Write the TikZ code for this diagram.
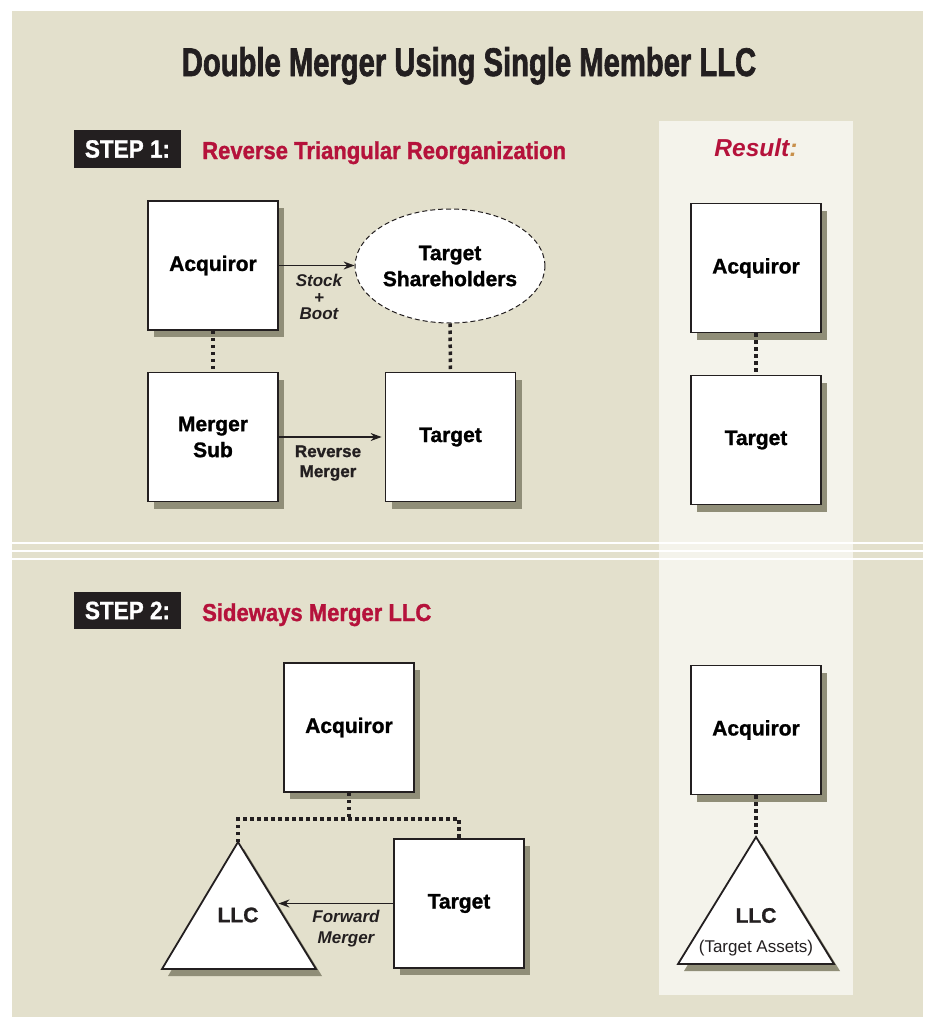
\documentclass[tikz,border=0pt]{standalone}
\usepackage{fontspec}
\setmainfont{Liberation Sans}[BoldFeatures={FakeBold=1.2}]
\newfontfamily\titlefont{Liberation Sans}[FakeStretch=0.73, BoldFeatures={FakeBold=1.6}]
\newfontfamily\stepfont{Liberation Sans}[FakeStretch=0.9, BoldFeatures={FakeBold=1.2}]
\usetikzlibrary{arrows.meta, shapes.geometric, shadows, calc}

\definecolor{bege}{HTML}{E3E0CC}
\definecolor{painel}{HTML}{F4F3EB}
\definecolor{sombra}{HTML}{908E78}
\definecolor{tinta}{HTML}{231F20}
\definecolor{vermelho}{HTML}{B5123B}
\definecolor{dourado}{HTML}{C8904B}

\tikzset{
  sombreado/.style={drop shadow={shadow xshift=6pt, shadow yshift=-7pt, opacity=1, fill=sombra}},
  caixa/.style={draw=tinta, line width=1.8pt, fill=white, minimum width=130pt,
    minimum height=129pt, inner sep=0pt, align=center, sombreado,
    font=\fontsize{21}{26}\selectfont\bfseries},
  elipse/.style={ellipse, draw=tinta, line width=1pt, dash pattern=on 5pt off 3pt,
    fill=white, minimum width=180pt, minimum height=114pt, inner sep=0pt,
    align=center, font=\fontsize{21}{26}\selectfont\bfseries},
  triangulo/.style={draw=tinta, line width=1.8pt, fill=white, sombreado},
  seta/.style={draw=tinta, line width=1.2pt, -{Stealth[length=11pt, width=8pt]}},
  pontos/.style={draw=tinta, line width=3.5pt, dash pattern=on 3.5pt off 3.5pt},
  rotulo/.style={inner sep=0pt, align=center, text=tinta},
  passo/.style={fill=tinta, text=white, minimum width=107pt, inner sep=0pt,
    font=\stepfont\bfseries\fontsize{25}{28}\selectfont},
  titulopasso/.style={anchor=base west, inner sep=0pt, text=vermelho,
    font=\stepfont\bfseries\fontsize{24.5}{28}\selectfont}
}

\begin{document}
\begin{tikzpicture}[x=1pt, y=-1pt]
  \useasboundingbox (0,0) rectangle (927,1017);
  % fundo
  \fill[white] (0,0) rectangle (927,1017);
  \fill[bege] (12,11) rectangle (923,1017);
  \fill[painel] (659,121) rectangle (853,995);
  \foreach \y in {543,551,559}
    \fill[white] (12,\y-1) rectangle (923,\y+1);

  % titulo
  \node[anchor=base, inner sep=0pt, text=tinta,
    font=\titlefont\bfseries\fontsize{40}{42}\selectfont] (titulo) at (469,76)
    {Double Merger Using Single Member LLC};

  % passo 1
  \node[passo, minimum height=38pt] (passo1) at (127.5,149) {STEP 1:};
  \node[titulopasso] (nome1) at (202,159) {Reverse Triangular Reorganization};
  \node[caixa] (acq1) at (213,265.5) {Acquiror};
  \node[caixa] (msub) at (213,437) {Merger\\Sub};
  \node[caixa] (tgt1) at (450.5,437) {Target};
  \node[elipse] (tsh) at (450,266) {Target\\Shareholders};
  \draw[seta] (acq1.east) -- (acq1.east -| tsh.west);
  \draw[seta, shorten >=3pt] (msub.east) -- (tgt1.west);
  \draw[pontos] (acq1.south) -- (msub.north);
  \draw[pontos] (tsh.south) -- (tgt1.north);
  \node[rotulo, font=\fontsize{17}{16.5}\selectfont\bfseries\itshape] (stock) at (319,297)
    {Stock\\+\\Boot};
  \node[rotulo, font=\fontsize{17}{20}\selectfont\bfseries] (revm) at (328,463)
    {Reverse\\Merger};

  % resultado
  \node[anchor=base, inner sep=0pt, text=vermelho,
    font=\fontsize{24.5}{28}\selectfont\bfseries\itshape] (result) at (756,156)
    {Result\textcolor{dourado}{:}};
  \node[caixa] (racq1) at (756,268) {Acquiror};
  \node[caixa] (rtgt1) at (756,440) {Target};
  \draw[pontos] (racq1.south) -- (rtgt1.north);

  % passo 2
  \node[passo, minimum height=37pt] (passo2) at (127.5,610.5) {STEP 2:};
  \node[titulopasso] (nome2) at (202,621) {Sideways Merger LLC};
  \node[caixa] (acq2) at (349,727.5) {Acquiror};
  \node[caixa] (tgt2) at (459,903.5) {Target};
  \coordinate (llc2top) at (238,842);
  \draw[triangulo] (llc2top) -- (316,969) -- (162,969) -- cycle;
  \coordinate (llc2lado) at ($(llc2top)!0.48!(316,969)$);
  \node[rotulo, font=\fontsize{21}{26}\selectfont\bfseries] (llc2) at (238,915) {LLC};
  \coordinate (fork) at (349,819);
  \draw[pontos] (acq2.south) -- (fork);
  \draw[pontos] (llc2top) |- (fork) -| (tgt2.north);
  \draw[seta, shorten >=3pt] (tgt2.west) -- (tgt2.west -| llc2lado);
  \node[rotulo, font=\fontsize{17}{21}\selectfont\bfseries\itshape] (fwdm) at (346,929)
    {Forward\\Merger};

  % resultado 2
  \node[caixa] (racq2) at (756,730) {Acquiror};
  \coordinate (rllctop) at (756,837);
  \draw[triangulo] (rllctop) -- (834,964) -- (678,964) -- cycle;
  \draw[pontos] (racq2.south) -- (rllctop);
  \node[rotulo, font=\fontsize{21}{26}\selectfont\bfseries] (rllc) at (756,915.5) {LLC};
  \node[rotulo, anchor=base, font=\fontsize{17}{20}\selectfont] (rassets) at (756,952.5)
    {(Target Assets)};
\end{tikzpicture}
\end{document}
